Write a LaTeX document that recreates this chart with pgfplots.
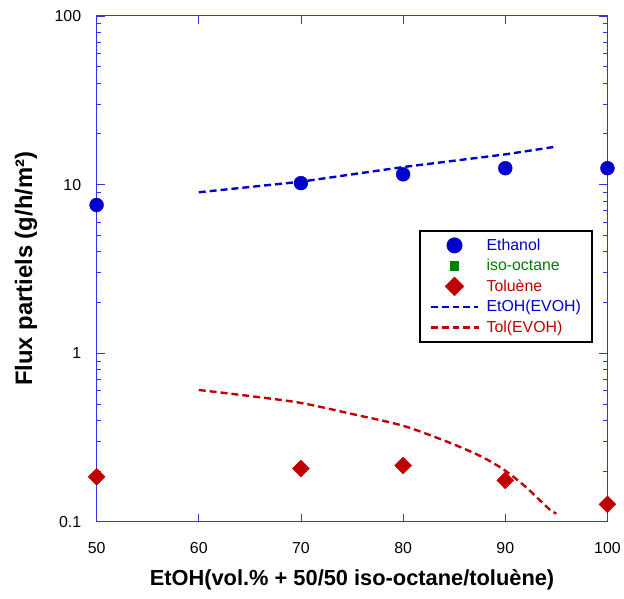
\documentclass[border=0pt]{standalone}
\usepackage{fontspec}
\setmainfont{Liberation Sans}
\usepackage{pgfplots}
\pgfplotsset{compat=1.18}
\definecolor{dblue}{RGB}{0,0,204}
\definecolor{axblue}{RGB}{50,50,235}
\definecolor{dred}{RGB}{192,0,0}
\definecolor{dgreen}{RGB}{0,128,0}
\begin{document}
\begin{tikzpicture}
\begin{axis}[
  scale only axis, width=513bp, height=508bp,
  xmin=50, xmax=100, ymode=log, ymin=0.1, ymax=100,
  xtick={50,60,70,80,90,100},
  ytick={0.1,1,10,100}, yticklabels={0.1,1,10,100},
  axis line style={axblue, line width=1pt},
  tick style={axblue, line width=0.8pt},
  major tick length=8bp, minor tick length=4bp,
  tick align=inside,
  tick label style={font=\fontsize{16}{18}\selectfont},
  xticklabel style={yshift=-17bp},
  yticklabel style={xshift=-12bp},
  /pgf/number format/assume math mode=true,
  xlabel={\bfseries EtOH(vol.\% + 50/50 iso-octane/toluène)},
  ylabel={\bfseries Flux partiels (g/h/m²)},
  xlabel style={font=\fontsize{22}{24}\selectfont, at={(axis description cs:0.5,-0.115)}, anchor=center},
  ylabel style={font=\fontsize{24}{26}\selectfont, at={(axis description cs:-0.138,0.5)}, anchor=center},
  legend style={at={(0.632,0.577)}, anchor=north west, draw=black, line width=2pt,
    font=\fontsize{16}{18}\selectfont, row sep=3.5bp, inner xsep=9bp, inner ysep=6bp,
    nodes={inner sep=2bp}, /tikz/every odd column/.append style={column sep=5bp}},
  legend cell align=left,
  legend image code/.code={\draw[mark repeat=2,mark phase=2,#1] plot coordinates {(0bp,0bp) (24bp,0bp) (48bp,0bp)};},
]
\addplot[only marks, mark=*, mark size=7bp, color=dblue] coordinates {
(50,7.57) (70,10.2) (80,11.5) (90,12.5) (100,12.5)};
\addlegendentry{\textcolor{dblue}{Ethanol}}
\addlegendimage{only marks, mark=square*, mark size=4bp, color=dgreen}
\addlegendentry{\textcolor{dgreen}{iso-octane}}
\addplot[only marks, mark=square*, mark size=6bp, mark options={rotate=45}, color=dred] coordinates {
(50,0.185) (70,0.207) (80,0.216) (90,0.176) (100,0.127)};
\addlegendentry{\textcolor{dred}{Toluène}}
\addplot[dblue, line width=2.4pt, dash pattern=on 7bp off 4bp] coordinates {
(60,9.0) (70,10.4) (80,12.7) (90,15.1) (95,16.8)};
\addlegendentry{\textcolor{dblue}{EtOH(EVOH)}}
\addplot[dred, line width=2.4pt, dash pattern=on 7bp off 4bp, smooth] coordinates {
(60,0.605) (65,0.557) (70,0.507) (75,0.436) (80,0.371) (84.4,0.297) (87.7,0.243) (90,0.201) (92.1,0.159) (94.3,0.119) (95,0.112)};
\addlegendentry{\textcolor{dred}{Tol(EVOH)}}
\end{axis}
\path ([xshift=-97bp,yshift=-77bp]current axis.south west) rectangle ([xshift=14bp,yshift=16bp]current axis.north east);
\end{tikzpicture}
\end{document}
